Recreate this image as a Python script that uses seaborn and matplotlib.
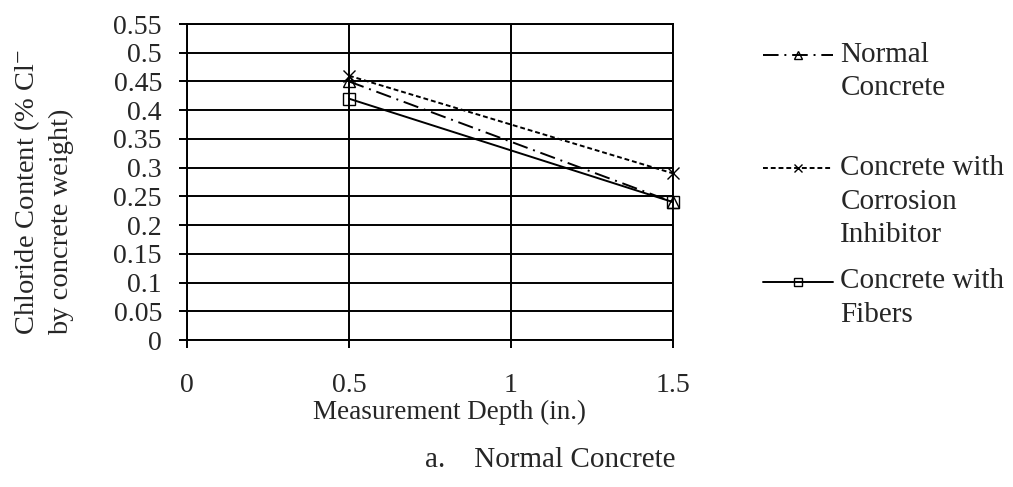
import pandas as pd
import numpy as np
import seaborn as sns
import matplotlib.pyplot as plt

# data
depth = [0.5, 1.5]
normal = [0.45, 0.24]
inhibitor = [0.46, 0.29]
fibers = [0.42, 0.24]

series_names = ['Normal\nConcrete\n', 'Concrete with\nCorrosion\nInhibitor', 'Concrete with\nFibers']
x_ticks = [0, 0.5, 1, 1.5]
x_tick_labels = ['0', '0.5', '1', '1.5']
y_ticks = [0, 0.05, 0.1, 0.15, 0.2, 0.25, 0.3, 0.35, 0.4, 0.45, 0.5, 0.55]
y_tick_labels = ['0', '0.05', '0.1', '0.15', '0.2', '0.25', '0.3', '0.35', '0.4', '0.45', '0.5', '0.55']

df = pd.DataFrame({
    'Depth': depth * 3,
    'Chloride': normal + inhibitor + fibers,
    'Mix': [series_names[0]] * 2 + [series_names[1]] * 2 + [series_names[2]] * 2,
})

sns.set_style('white')
plt.rcParams['font.family'] = ['Liberation Serif', 'DejaVu Serif']
plt.rcParams['mathtext.fontset'] = 'stix'

fig = plt.figure(figsize=(10.13, 4.87), dpi=100)
ax = fig.add_axes([187 / 1013, 1 - 340 / 487, 486 / 1013, 316 / 487])

markers = ['^', 'x', 's']
styles = [(0, (8, 3, 1, 3)), (0, (2.5, 1.5)), '-']
for name, mk, ls in zip(series_names, markers, styles):
    sns.lineplot(data=df[df['Mix'] == name], x='Depth', y='Chloride', color='black',
                 marker=mk, linestyle=ls, linewidth=1.4, markersize=9,
                 markerfacecolor='none', markeredgecolor='black',
                 markeredgewidth=1.0, label=name, clip_on=False, ax=ax)

ax.set_xlim(0, 1.5)
ax.set_ylim(0, 0.55)
ax.set_xticks(x_ticks)
ax.set_xticklabels(x_tick_labels)
ax.set_yticks(y_ticks)
ax.set_yticklabels(y_tick_labels)
ax.grid(True, color='black', linewidth=1.4)
ax.set_axisbelow(True)
for s in ax.spines.values():
    s.set_color('black')
    s.set_linewidth(1.4)
ax.tick_params(axis='both', which='both', direction='out', length=6, width=1.4,
               color='black', labelsize=20, bottom=True, left=True)
ax.tick_params(axis='x', pad=18)
ax.tick_params(axis='y', pad=12)

ax.set_xlabel('Measurement Depth (in.)', fontsize=19.5, va='center')
ax.xaxis.set_label_coords(0.541, -0.228)
ax.set_ylabel('Chloride Content (% Cl$^{-}$\nby concrete weight)', fontsize=20.5,
              va='center', ha='center', multialignment='left', linespacing=1.33)
ax.yaxis.set_label_coords(-0.296, 0.468)

leg = ax.legend(loc='upper left', bbox_to_anchor=(763 / 1013, 1 - 42 / 487),
                bbox_transform=fig.transFigure, frameon=False, fontsize=21,
                borderpad=0, borderaxespad=0, handlelength=2.4, handletextpad=0.25,
                handleheight=1.4, labelspacing=0.7, markerscale=0.7)
for t in leg.get_texts():
    t.set_linespacing(1.37)
# put the handle next to the first line of each label
for col in leg._legend_handle_box.get_children():
    for row in col.get_children():
        row.align = 'top'

fig.text(425 / 1013, 1 - 460 / 487, 'a.    Normal Concrete', fontsize=21,
         ha='left', va='center')

fig.savefig('out.png', dpi=100)
